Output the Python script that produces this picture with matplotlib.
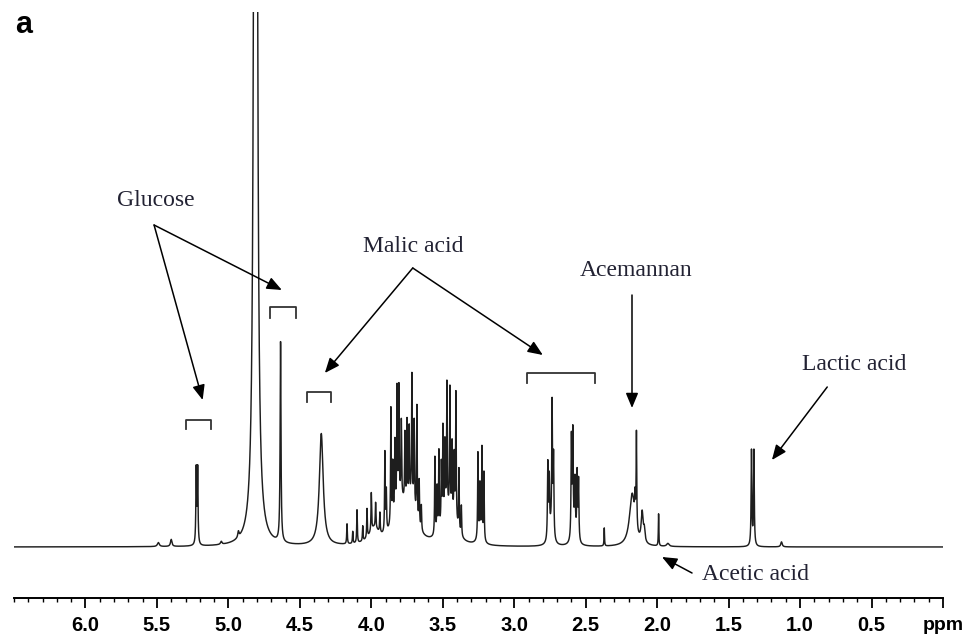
import numpy as np
import matplotlib
matplotlib.use("Agg")
import matplotlib.pyplot as plt

# ---- peak table (ppm, height above baseline, half-width in ppm) ----
# low field: glucose anomerics, HOD, malic acid CH
low_ppm = [5.49, 5.40, 5.225, 5.215, 5.05, 4.93, 4.81, 4.635, 4.35]
low_height = [4, 7, 75, 75, 3, 6, 4000, 200, 112]
low_width = [0.008, 0.006, 0.003, 0.003, 0.006, 0.005, 0.006, 0.0035, 0.016]

# sugar region, sharp lines
sugar_ppm = [4.17, 4.13, 4.10, 4.06, 4.03, 4.00, 3.97, 3.94,
             3.905, 3.895, 3.863, 3.85, 3.835, 3.82, 3.807, 3.79, 3.765, 3.75,
             3.735, 3.716, 3.70, 3.681, 3.665, 3.65,
             3.555, 3.54, 3.527, 3.51, 3.499, 3.485, 3.471, 3.45, 3.435, 3.42,
             3.408, 3.387, 3.37, 3.254, 3.24, 3.226, 3.212]
sugar_height = [20, 12, 33, 15, 29, 38, 25, 20,
                80, 40, 116, 55, 70, 115, 110, 75, 68, 80,
                70, 123, 85, 113, 45, 25,
                78, 45, 79, 60, 92, 70, 125, 123, 70, 60,
                128, 62, 30, 85, 50, 90, 68]
sugar_width = 0.0025

# broad polysaccharide humps under the sugar lines
hump_ppm = [3.98, 3.80, 3.72, 3.47, 3.42, 3.24]
hump_height = [15, 40, 35, 30, 15, 8]
hump_width = [0.04, 0.05, 0.04, 0.04, 0.03, 0.02]

# high field: malic CH2, acemannan acetyls, acetic, lactic
high_ppm = [2.765, 2.755, 2.745, 2.735, 2.725, 2.60, 2.59, 2.58, 2.575, 2.56, 2.55,
            2.37, 2.175, 2.155, 2.145, 2.105, 2.09, 1.99, 1.925, 1.34, 1.323, 1.13]
high_height = [75, 55, 15, 130, 80, 100, 100, 15, 50, 65, 60,
               18, 52, 25, 95, 30, 12, 32, 3, 95, 95, 5]
high_width = [0.003, 0.003, 0.015, 0.003, 0.003, 0.003, 0.003, 0.015, 0.003, 0.003, 0.003,
              0.002, 0.022, 0.003, 0.0025, 0.008, 0.006, 0.002, 0.01, 0.003, 0.003, 0.006]

tick_values = [6.0, 5.5, 5.0, 4.5, 4.0, 3.5, 3.0, 2.5, 2.0, 1.5, 1.0, 0.5, 0.0]
tick_labels = ["6.0", "5.5", "5.0", "4.5", "4.0", "3.5", "3.0", "2.5", "2.0",
               "1.5", "1.0", "0.5", ""]


def lorentz(x, c, h, w):
    return h * w ** 2 / ((x - c) ** 2 + w ** 2)


ppm = np.linspace(6.5, 0.0, 26001)
spec = np.zeros_like(ppm)
for c, h, w in zip(low_ppm, low_height, low_width):
    spec += lorentz(ppm, c, h, w)
for c, h in zip(sugar_ppm, sugar_height):
    spec += lorentz(ppm, c, h, sugar_width)
for c, h, w in zip(hump_ppm, hump_height, hump_width):
    spec += lorentz(ppm, c, h, w)
for c, h, w in zip(high_ppm, high_height, high_width):
    spec += lorentz(ppm, c, h, w)

fig = plt.figure(figsize=(9.71, 6.44), dpi=100)
ax = fig.add_axes([14 / 971, 46 / 644, 929 / 971, 586 / 644])
ax.plot(ppm, spec, color="#1e1e1e", lw=1.05)
ax.set_xlim(6.5, 0.0)
ax.set_ylim(-51, 535)

for s in ["left", "right", "top"]:
    ax.spines[s].set_visible(False)
ax.spines["bottom"].set_linewidth(1.4)
ax.set_yticks([])
ax.set_xticks(tick_values)
ax.set_xticklabels(tick_labels, fontsize=14.5, fontweight="bold", family="Liberation Sans")
ax.set_xticks(np.arange(0, 6.55, 0.1), minor=True)
ax.tick_params(axis="x", which="major", length=7, width=1.3, pad=6)
ax.tick_params(axis="x", which="minor", length=3, width=1.0)
# unit label sits at the axis end, nudged right
ax.annotate("ppm", xy=(0.0, 0), xycoords=("data", "axes fraction"),
            xytext=(0.5, -14), textcoords="offset points", ha="center", va="top",
            fontsize=14, fontweight="bold", family="Liberation Sans")

tfont = dict(family="Liberation Serif", fontsize=17, color="#222233")
aprops = dict(arrowstyle="-|>,head_length=0.6,head_width=0.25", mutation_scale=15,
              lw=1.1, color="black", shrinkA=0, shrinkB=0)


def arrow(start, end):
    ax.annotate("", xy=end, xytext=start, arrowprops=aprops)


def bracket(x0, x1, ytop, ybot):
    ax.plot([x0, x0, x1, x1], [ybot, ytop, ytop, ybot], color="#333333",
            lw=1.3, solid_joinstyle="round")


# glucose
ax.text(5.51, 347, "Glucose", ha="center", va="center", **tfont)
arrow((5.52, 322), (5.18, 147))
arrow((5.52, 322), (4.626, 257))
bracket(5.30, 5.12, 127, 118)
bracket(4.71, 4.53, 240, 229)

# malic acid
ax.text(3.71, 300, "Malic acid", ha="center", va="center", **tfont)
arrow((3.71, 279), (4.325, 174))
arrow((3.71, 279), (2.80, 192))
bracket(4.45, 4.28, 155, 145)
bracket(2.91, 2.435, 174, 164)

# acemannan
ax.text(2.15, 277, "Acemannan", ha="center", va="center", **tfont)
arrow((2.176, 252), (2.176, 139))

# lactic acid
ax.text(0.62, 182, "Lactic acid", ha="center", va="center", **tfont)
arrow((0.81, 160), (1.197, 87))

# acetic acid
ax.text(1.315, -27, "Acetic acid", ha="center", va="center", **tfont)
arrow((1.756, -26), (1.966, -10))

fig.text(24 / 971, 1 - 25 / 644, "a", fontsize=22, fontweight="bold",
         family="Liberation Sans", ha="center", va="center")

fig.savefig("out.png", dpi=100)
